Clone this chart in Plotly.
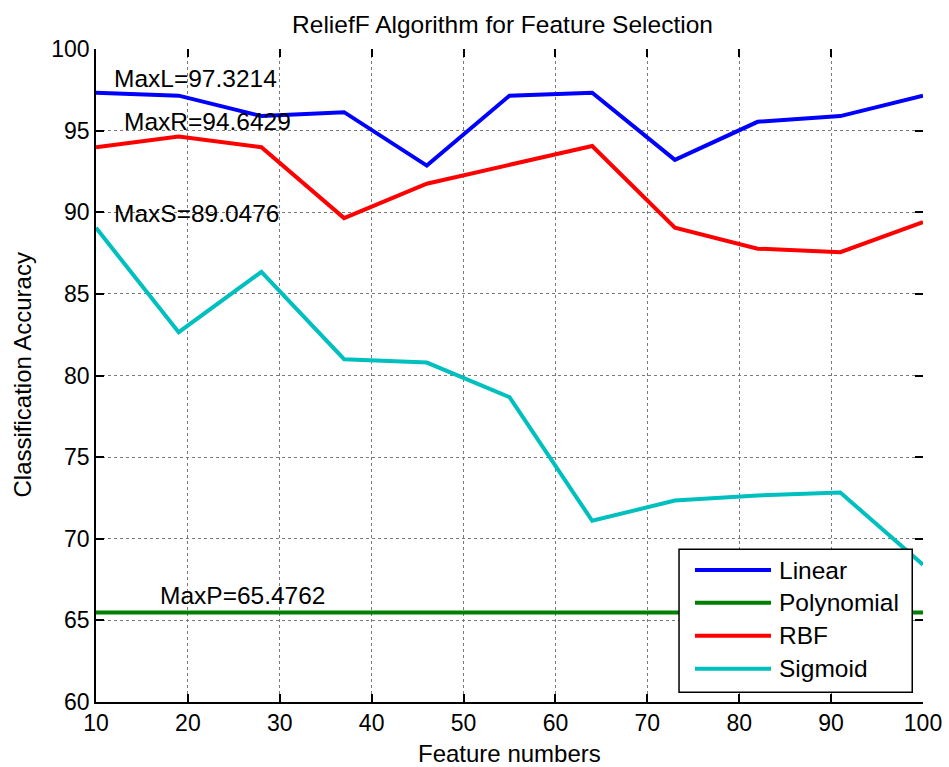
import plotly.graph_objects as go

# Feature counts evaluated by ReliefF and SVM accuracy for each kernel
features = [10, 19, 28, 37, 46, 55, 64, 73, 82, 91, 100]
linear = [97.3214, 97.1429, 95.89, 96.13, 92.86, 97.1429, 97.3214, 93.21, 95.54, 95.89, 97.1429]
polynomial = [65.4762] * 11
rbf = [93.98, 94.6429, 93.98, 89.64, 91.75, 92.90, 94.06, 89.06, 87.77, 87.55, 89.40]
sigmoid = [89.0476, 82.65, 86.35, 81.00, 80.79, 78.67, 71.10, 72.34, 72.65, 72.83, 68.41]

series_names = ["Linear", "Polynomial", "RBF", "Sigmoid"]
series_values = [linear, polynomial, rbf, sigmoid]
series_colors = ["#0000ff", "#008000", "#ff0000", "#00bfbf"]

# Peak labels: text, x, y (data coordinates)
peak_labels = [
    ("MaxL=97.3214", 11.75, 98.19),
    ("MaxR=94.6429", 12.8, 95.58),
    ("MaxS=89.0476", 11.75, 89.94),
    ("MaxP=65.4762", 16.76, 66.53),
]

x_ticks = list(range(10, 101, 10))
y_ticks = list(range(60, 101, 5))

FONT = "Liberation Sans, Arial, Helvetica, sans-serif"

fig = go.Figure()
for name, vals, col in zip(series_names, series_values, series_colors):
    fig.add_trace(go.Scatter(x=features, y=vals, mode="lines", name=name,
                             line=dict(color=col, width=4), showlegend=False))

for text, x, y in peak_labels:
    fig.add_annotation(x=x, y=y, xref="x", yref="y", text=text, showarrow=False,
                       xanchor="left", yanchor="middle",
                       font=dict(family=FONT, size=24.5, color="black"))

# Axis titles placed relative to the plotting area
fig.add_annotation(x=0.5, y=0, xref="paper", yref="paper", text="Feature numbers",
                   showarrow=False, xanchor="center", yanchor="middle", yshift=-51.5,
                   font=dict(family=FONT, size=24, color="black"))
fig.add_annotation(x=0, y=0.5, xref="paper", yref="paper", text="Classification Accuracy",
                   showarrow=False, xanchor="center", yanchor="middle", xshift=-74,
                   textangle=-90, font=dict(family=FONT, size=24, color="black"))

# Boxed legend in the lower-right corner of the axes
fig.add_shape(type="rect", xref="paper", yref="paper", x0=0.705, x1=0.987,
              y0=0.0149, y1=0.2338, line=dict(color="black", width=1.5),
              fillcolor="white", layer="above")
legend_rows = [0.2021, 0.1519, 0.1013, 0.0508]
for name, col, yy in zip(series_names, series_colors, legend_rows):
    fig.add_shape(type="line", xref="paper", yref="paper", x0=0.7243, x1=0.8162,
                  y0=yy, y1=yy, line=dict(color=col, width=4), layer="above")
    fig.add_annotation(x=0.8235, y=yy, xref="paper", yref="paper", text=name,
                       showarrow=False, xanchor="left", yanchor="middle",
                       font=dict(family=FONT, size=24.5, color="black"))

axis_common = dict(
    showgrid=True, gridcolor="#7a7a7a", gridwidth=1, griddash="dot",
    showline=True, linecolor="black", linewidth=1.5,
    ticks="inside", ticklen=8, tickcolor="black", tickwidth=1.5,
    zeroline=False, automargin=False,
    tickfont=dict(family=FONT, size=23, color="black"),
)

fig.update_layout(
    width=949, height=767,
    paper_bgcolor="white", plot_bgcolor="white",
    margin=dict(l=96, r=26, t=48.5, b=65.3),
    title=dict(text="ReliefF Algorithm for Feature Selection", x=502.5 / 949,
               xref="container", xanchor="center", y=1 - 24 / 767,
               yref="container", yanchor="middle",
               font=dict(family=FONT, size=24.5, color="black")),
    xaxis=dict(range=[10, 100], tickvals=x_ticks, **axis_common),
    yaxis=dict(range=[60, 100], tickvals=y_ticks, **axis_common),
    # mirrored tick marks on the top and right edges
    xaxis2=dict(overlaying="x", side="top", range=[10, 100], tickvals=x_ticks,
                ticks="inside", ticklen=8, tickcolor="black", tickwidth=1.5,
                showticklabels=False, showgrid=False, showline=False, zeroline=False,
                automargin=False, matches="x"),
    yaxis2=dict(overlaying="y", side="right", range=[60, 100], tickvals=y_ticks,
                ticks="inside", ticklen=8, tickcolor="black", tickwidth=1.5,
                showticklabels=False, showgrid=False, showline=False, zeroline=False,
                automargin=False, matches="y"),
)
# invisible trace that activates the mirrored axes
fig.add_trace(go.Scatter(x=[10], y=[60], xaxis="x2", yaxis="y2", mode="markers",
                         marker=dict(opacity=0), showlegend=False, hoverinfo="skip"))

fig.write_html("out.html")
